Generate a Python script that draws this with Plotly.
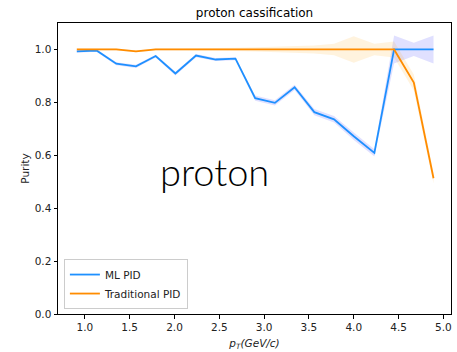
import plotly.graph_objects as go

pt = [0.91, 1.13, 1.35, 1.57, 1.79, 2.01, 2.24, 2.46, 2.68, 2.90,
      3.12, 3.34, 3.56, 3.78, 4.00, 4.23, 4.45, 4.67, 4.89]
ml_purity = [0.993, 0.996, 0.946, 0.936, 0.975, 0.909, 0.977, 0.962, 0.965, 0.816,
             0.798, 0.857, 0.763, 0.736, 0.672, 0.609, 1.0, 1.0, 1.0]
ml_err = [0.005, 0.005, 0.006, 0.006, 0.005, 0.007, 0.006, 0.006, 0.006, 0.010,
          0.010, 0.010, 0.012, 0.012, 0.014, 0.014, 0.053, 0.025, 0.053]
trad_purity = [1.0, 1.0, 1.0, 0.993, 1.0, 1.0, 1.0, 1.0, 1.0, 1.0,
               1.0, 1.0, 1.0, 1.0, 1.0, 1.0, 1.0, 0.875, 0.513]
trad_err = [0.004, 0.004, 0.004, 0.004, 0.004, 0.004, 0.004, 0.005, 0.006, 0.008,
            0.010, 0.012, 0.015, 0.022, 0.050, 0.022, 0.030, 0.030, 0.020]

x_ticks = [1.0, 1.5, 2.0, 2.5, 3.0, 3.5, 4.0, 4.5, 5.0]
y_ticks = [0.0, 0.2, 0.4, 0.6, 0.8, 1.0]

BLUE = "#1E90FF"
ORANGE = "#FF8C00"
FONT = "DejaVu Sans"

fig = go.Figure()

def band(y, e, fillcolor):
    lo = [a - b for a, b in zip(y, e)]
    hi = [a + b for a, b in zip(y, e)]
    fig.add_trace(go.Scatter(x=pt, y=lo, mode="lines", line=dict(width=0),
                             showlegend=False, hoverinfo="skip"))
    fig.add_trace(go.Scatter(x=pt, y=hi, mode="lines", line=dict(width=0),
                             fill="tonexty", fillcolor=fillcolor,
                             showlegend=False, hoverinfo="skip"))

band(ml_purity, ml_err, "rgba(0,0,255,0.12)")
band(trad_purity, trad_err, "rgba(255,165,0,0.13)")

fig.add_trace(go.Scatter(x=pt, y=ml_purity, mode="lines", name="ML PID",
                         line=dict(color=BLUE, width=1.8)))
fig.add_trace(go.Scatter(x=pt, y=trad_purity, mode="lines", name="Traditional PID",
                         line=dict(color=ORANGE, width=1.8)))

fig.add_annotation(x=2.45, y=0.54, xref="x", yref="y", text="proton",
                   showarrow=False, xanchor="center", yanchor="middle",
                   font=dict(family="Lato", size=38, color="black", weight=300))

axis_common = dict(showgrid=False, zeroline=False, showline=True, linecolor="black",
                   linewidth=1, mirror=True, ticks="outside", ticklen=3.5,
                   tickcolor="black", tickfont=dict(family=FONT, size=10.5, color="#222"))

fig.update_xaxes(range=[0.70, 5.085], tickvals=x_ticks,
                 ticktext=[f"{v:.1f}" for v in x_ticks],
                 title=dict(text="<i>p</i><sub><i>T</i></sub><i>(GeV/c)</i>",
                            font=dict(family=FONT, size=10.5, color="#222"), standoff=7),
                 **axis_common)
fig.update_yaxes(range=[0, 1.1], tickvals=y_ticks,
                 ticktext=[f"{v:.1f}" for v in y_ticks],
                 title=dict(text="Purity", font=dict(family=FONT, size=10.5, color="#222"),
                            standoff=3),
                 **axis_common)

fig.update_layout(
    width=457, height=352,
    margin=dict(l=58, r=6, t=23, b=38),
    paper_bgcolor="white", plot_bgcolor="white",
    title=dict(text="proton cassification", x=0.557, xanchor="center", y=0.965,
               yanchor="middle", font=dict(family=FONT, size=12, color="black")),
    legend=dict(x=0.015, y=0.017, xanchor="left", yanchor="bottom",
                bgcolor="rgba(255,255,255,0.8)", bordercolor="#cccccc", borderwidth=1,
                font=dict(family=FONT, size=10.5, color="#222"),
                traceorder="normal", tracegroupgap=0, itemwidth=30),
    showlegend=True,
)

fig.write_html("out.html")
